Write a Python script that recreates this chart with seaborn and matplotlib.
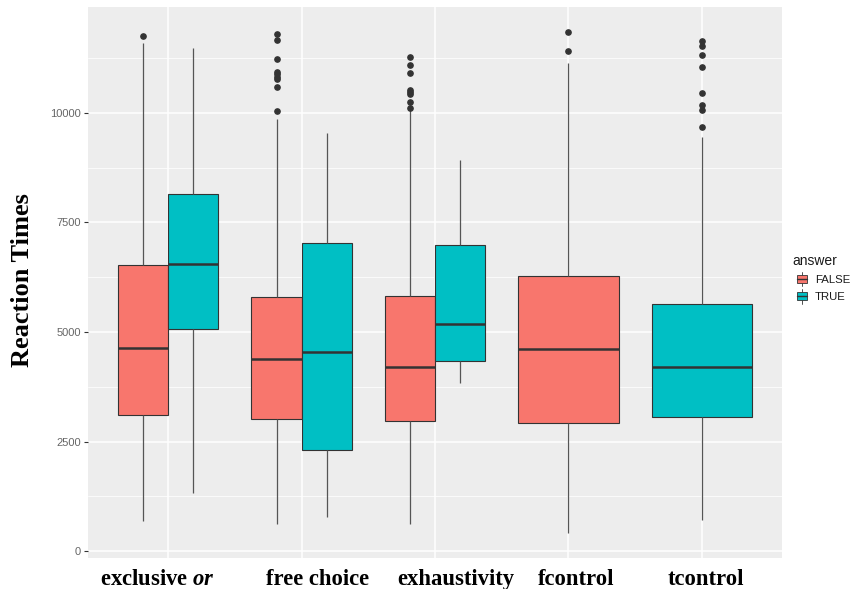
import numpy as np
import pandas as pd
import matplotlib
matplotlib.use("Agg")
import matplotlib.pyplot as plt
import matplotlib.transforms as mtransforms
import seaborn as sns
from matplotlib.legend_handler import HandlerBase
from matplotlib.patches import Rectangle, Patch
from matplotlib.lines import Line2D
from matplotlib.ticker import MultipleLocator

# ---------------- data ----------------
conditions = ["exclusive or", "free choice", "exhaustivity", "fcontrol", "tcontrol"]
condition_labels = ["exclusive $\\mathit{or}$", "free choice", "exhaustivity", "fcontrol", "tcontrol"]
answers = ["FALSE", "TRUE"]

group_condition = ["exclusive or", "exclusive or", "free choice", "free choice",
                   "exhaustivity", "exhaustivity", "fcontrol", "tcontrol"]
group_answer = ["FALSE", "TRUE", "FALSE", "TRUE", "FALSE", "TRUE", "FALSE", "TRUE"]
whisker_low = [701, 1331, 632, 776, 616, 3843, 418, 708]
q1 = [3105, 5076, 3007, 2306, 2961, 4331, 2922, 3066]
median = [4635, 6559, 4384, 4551, 4201, 5183, 4619, 4201]
q3 = [6530, 8144, 5806, 7025, 5815, 6980, 6279, 5646]
whisker_high = [11600, 11480, 9860, 9540, 10060, 8927, 11135, 9459]
outliers = [
    [11760],
    [],
    [10050, 10590, 10780, 10820, 10890, 10940, 11230, 11670, 11800],
    [],
    [10120, 10250, 10430, 10480, 10530, 10910, 11100, 11280],
    [],
    [11416, 11842],
    [9687, 10062, 10183, 10450, 11043, 11308, 11514, 11637],
]
y_ticks = [0, 2500, 5000, 7500, 10000]

palette = {"FALSE": "#F8766D", "TRUE": "#00BFC4"}

# Build per-group samples whose quartiles / whiskers / outliers equal the values above
rows = []
for i in range(len(group_condition)):
    k = len(outliers[i])
    m = k + 1
    vals = ([whisker_low[i]] + [q1[i]] * m + [median[i]] * m + [q3[i]] * m
            + [whisker_high[i]] * (m - k) + sorted(outliers[i]))
    for v in vals:
        rows.append((group_condition[i], group_answer[i], v))
df = pd.DataFrame(rows, columns=["condition", "answer", "rt"])

# ---------------- style ----------------
sns.set_theme(style="darkgrid")
plt.rcParams["font.family"] = ["Liberation Sans", "DejaVu Sans"]
plt.rcParams["mathtext.fontset"] = "custom"
plt.rcParams["mathtext.it"] = "Liberation Serif:italic:bold"
plt.rcParams["mathtext.rm"] = "Liberation Serif:bold"
plt.rcParams["mathtext.bf"] = "Liberation Serif:bold"

W, H = 856, 589
fig = plt.figure(figsize=(W / 100, H / 100), dpi=100)
fig.patch.set_facecolor("white")
ax = fig.add_axes([88 / W, 1 - 558 / H, 694 / W, 551 / H])
ax.set_facecolor("#EDEDED")

line_col = "#333333"
common = dict(
    x="condition", y="rt", hue="answer", order=conditions, hue_order=answers,
    palette=palette, saturation=1, width=0.75, linecolor=line_col, linewidth=0.8,
    whis=1.5, showcaps=False, legend=False, ax=ax,
    medianprops=dict(color=line_col, linewidth=1.8),
    whiskerprops=dict(color="#555555", linewidth=0.9),
    flierprops=dict(marker="o", markerfacecolor=line_col, markeredgecolor=line_col,
                    markersize=3.8),
)
sns.boxplot(data=df[df["condition"].isin(conditions[:3])], dodge=True, **common)
sns.boxplot(data=df[df["condition"].isin(conditions[3:])], dodge=False, **common)

# ---------------- axes ----------------
ax.set_xlim(-0.6, 4.6)
ax.set_ylim(-153, 12413)
ax.set_yticks(y_ticks)
ax.set_yticklabels([str(t) for t in y_ticks])
ax.set_xticks(range(len(conditions)))
ax.set_xticklabels(condition_labels)
ax.yaxis.set_minor_locator(MultipleLocator(1250))
ax.set_axisbelow(True)
ax.grid(False)
ax.grid(which="major", axis="both", color="white", linewidth=1.1)
ax.grid(which="minor", axis="y", color="white", linewidth=0.55)
for s in ax.spines.values():
    s.set_visible(False)

ax.tick_params(axis="y", which="major", length=3, width=0.8, color=line_col,
               labelsize=8, labelcolor="#666666", pad=2, left=True)
ax.tick_params(axis="y", which="minor", length=0)
ax.tick_params(axis="x", which="both", length=0, pad=7.8, labelsize=16.3,
               labelcolor="black", bottom=True)
# the reference's category labels sit slightly off their box centres
label_shift_px = [-10.5, 16, 21, 8, 4]
for t, dx in zip(ax.get_xticklabels(), label_shift_px):
    t.set_fontfamily("Liberation Serif")
    t.set_fontweight("bold")
    t.set_transform(t.get_transform() +
                    mtransforms.ScaledTranslation(dx / 100, 0, fig.dpi_scale_trans))
for t in ax.get_yticklabels():
    t.set_fontfamily("Liberation Sans")

ax.set_xlabel("")
ax.set_ylabel("Reaction Times", fontfamily="Liberation Serif", fontweight="bold",
              fontsize=19, color="black", va="center")
ax.yaxis.set_label_coords((23 - 88) / 694, (558 - 280) / 551)


# ---------------- legend ----------------
class BoxKeyHandler(HandlerBase):
    def create_artists(self, legend, orig_handle, xdescent, ydescent, width, height,
                       fontsize, trans):
        x0 = -xdescent + width * 0.36
        bw = width * 0.64
        y0 = -ydescent
        xc = x0 + bw / 2
        rect = Rectangle((x0, y0 + 0.2 * height), bw, 0.6 * height,
                         facecolor=orig_handle.get_facecolor(), edgecolor=line_col,
                         linewidth=0.6, transform=trans)
        med = Line2D([x0, x0 + bw], [y0 + 0.5 * height] * 2, color=line_col,
                     linewidth=1.0, transform=trans)
        w1 = Line2D([xc, xc], [y0 - 0.05 * height, y0 + 0.2 * height], color=line_col,
                    linewidth=0.6, transform=trans)
        w2 = Line2D([xc, xc], [y0 + 0.8 * height, y0 + 1.05 * height], color=line_col,
                    linewidth=0.6, transform=trans)
        return [w1, w2, rect, med]


handles = [Patch(facecolor=palette[a], label=a) for a in answers]
leg = ax.legend(handles=handles, labels=answers, title="answer",
                loc="upper left", bbox_to_anchor=(792 / W, 1 - 254 / H),
                bbox_transform=fig.transFigure, frameon=False, fontsize=8.2,
                title_fontsize=10, handlelength=1.32, handleheight=1.4,
                handletextpad=0.7, labelspacing=0.38, borderpad=0,
                borderaxespad=0, alignment="left",
                handler_map={Patch: BoxKeyHandler()})
leg.get_title().set_color("#1a1a1a")
for t in leg.get_texts():
    t.set_color("#1a1a1a")

fig.savefig("out.png", dpi=100)
